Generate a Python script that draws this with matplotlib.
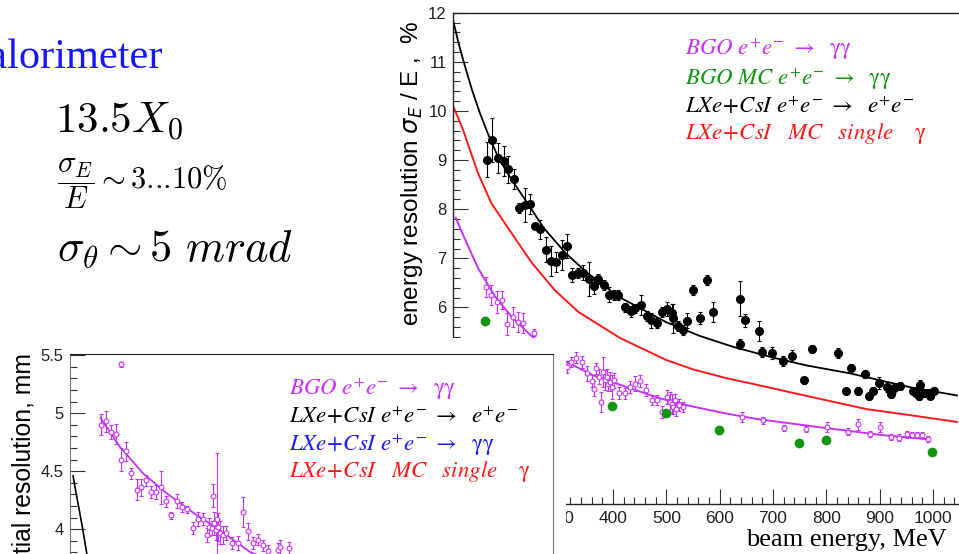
import matplotlib
matplotlib.use("Agg")
import matplotlib.pyplot as plt
from matplotlib.ticker import MultipleLocator, FuncFormatter
from matplotlib.patches import Rectangle

plt.rcParams['font.family'] = ['Liberation Sans', 'DejaVu Sans']

# ---- top plot: energy resolution vs beam energy ----
black_E = [164, 174, 185, 195, 204, 215, 224, 235, 245, 254, 264, 274, 283, 294, 304,
           314, 324, 334, 343, 355, 364, 371, 384, 393, 402, 410, 422, 433, 442, 452,
           463, 471, 482, 491, 502, 511, 512, 522, 531, 539, 550, 563, 577, 588, 638,
           639, 647, 674, 680, 699, 719, 736, 758, 773, 822, 837, 847, 859, 872, 880,
           888, 899, 913, 921, 927, 938, 963, 968, 974, 976, 984, 992, 994, 1002]
black_v = [9.01, 9.41, 9.04, 8.98, 8.81, 8.61, 8.02, 8.08, 8.11, 7.66, 7.59, 7.18, 6.95, 6.92, 7.07,
           7.25, 6.66, 6.71, 6.71, 6.58, 6.43, 6.58, 6.45, 6.26, 6.26, 6.26, 6.00, 5.92, 5.98, 6.05,
           5.82, 5.74, 5.69, 5.90, 5.97, 5.88, 5.78, 5.62, 5.55, 5.73, 6.35, 5.78, 6.56, 5.91, 6.18,
           5.25, 5.74, 5.52, 5.10, 5.08, 4.91, 5.01, 4.52, 5.16, 5.08, 4.30, 4.76, 4.30, 4.65, 4.19,
           4.31, 4.47, 4.38, 4.23, 4.36, 4.40, 4.31, 4.25, 4.19, 4.43, 4.26, 4.26, 4.20, 4.31]
black_err = [0.35, 0.45, 0.30, 0.30, 0.28, 0.20, 0.10, 0.35, 0.20, 0.05, 0.20, 0.25, 0.30, 0.20, 0.30,
             0.25, 0.15, 0.10, 0.15, 0.35, 0.15, 0.10, 0.10, 0.15, 0.10, 0.10, 0.10, 0.12, 0.10, 0.20,
             0.10, 0.15, 0.10, 0.10, 0.15, 0.20, 0.30, 0.10, 0.10, 0.15, 0.10, 0.12, 0.10, 0.20, 0.35,
             0.10, 0.13, 0.20, 0.10, 0.12, 0.10, 0.12, 0.07, 0.08, 0.10, 0.07, 0.09, 0.09, 0.08, 0.07,
             0.08, 0.12, 0.10, 0.08, 0.10, 0.08, 0.07, 0.07, 0.07, 0.10, 0.08, 0.08, 0.07, 0.08]

bgo_E = [162, 172, 182, 192, 202, 212, 221, 231, 251,
         313, 321, 331, 342, 352, 361, 365, 369, 374, 377, 381, 385, 388, 391, 394, 398, 401,
         411, 422, 432, 441, 451, 461, 474, 482, 491, 501, 506, 510, 513, 516, 519, 524, 531, 641,
         682, 721, 761, 802, 840, 860, 881, 901, 921, 936, 951, 960, 970, 979, 991]
bgo_v = [6.42, 6.25, 6.11, 6.15, 5.67, 5.81, 5.71, 5.69, 5.49,
         4.79, 4.89, 4.98, 4.89, 4.66, 4.50, 4.35, 4.76, 4.59, 4.08, 4.69, 4.52, 4.59, 4.45, 4.49, 4.38, 4.52,
         4.26, 4.25, 4.38, 4.45, 4.50, 4.32, 4.11, 4.11, 3.87, 4.18, 4.08, 4.04, 3.98, 4.11, 3.94, 4.01, 3.98, 3.77,
         3.70, 3.54, 3.52, 3.57, 3.47, 3.62, 3.42, 3.57, 3.36, 3.35, 3.42, 3.40, 3.40, 3.40, 3.33]
bgo_err = [0.20, 0.20, 0.22, 0.18, 0.22, 0.20, 0.20, 0.20, 0.08,
           0.12, 0.10, 0.12, 0.12, 0.15, 0.12, 0.15, 0.12, 0.15, 0.20, 0.30, 0.20, 0.15, 0.15, 0.20, 0.25, 0.15,
           0.12, 0.12, 0.12, 0.15, 0.12, 0.12, 0.10, 0.10, 0.12, 0.15, 0.20, 0.20, 0.15, 0.12, 0.15, 0.12, 0.10, 0.10,
           0.08, 0.06, 0.06, 0.10, 0.07, 0.12, 0.06, 0.10, 0.06, 0.07, 0.07, 0.06, 0.06, 0.06, 0.06]

mc_E = [160, 399, 499, 599, 749, 799, 998]
mc_v = [5.73, 3.99, 3.86, 3.50, 3.25, 3.31, 3.06]
mc_err = [0.07, 0.06, 0.05, 0.07, 0.06, 0.07, 0.06]

# fit curves
fit_black_E = [100, 110, 120, 135, 150, 165, 185, 210, 235, 270, 310, 350, 410, 438, 500,
               563, 625, 700, 763, 844, 888, 960, 1045]
fit_black_v = [11.85, 11.4, 11.0, 10.45, 9.97, 9.55, 9.05, 8.6, 8.2, 7.62, 7.12, 6.72, 6.22, 6.06, 5.70,
               5.42, 5.20, 4.98, 4.82, 4.66, 4.55, 4.37, 4.21]
fit_red_E = [100, 110, 119, 132, 147, 172, 210, 247, 291, 335, 413, 500, 550, 613, 660, 763, 876, 969, 1045]
fit_red_v = [10.1, 9.85, 9.61, 9.2, 8.73, 8.12, 7.51, 6.92, 6.35, 5.91, 5.38, 4.93, 4.74, 4.56, 4.45,
             4.20, 3.93, 3.79, 3.67]
fit_bgo_E = [105, 122, 147, 179, 210, 247, 313, 363, 426, 488, 551, 613, 670, 782, 907, 988]
fit_bgo_v = [7.83, 7.40, 6.80, 6.22, 5.81, 5.42, 4.89, 4.62, 4.38, 4.15, 3.98, 3.84, 3.73, 3.57, 3.40, 3.32]

# ---- bottom plot: spatial resolution ----
sp_E = [201, 161, 170, 180, 191, 200, 210, 220, 231, 240, 250, 259, 269, 279, 289, 299, 310, 320,
        331, 342, 351, 361, 369, 374, 379, 382, 384, 387, 389, 392, 395, 400, 407, 418, 430, 440,
        450, 460, 470, 480, 490, 510, 513, 530]
sp_v = [5.42, 4.90, 4.93, 4.84, 4.82, 4.60, 4.67, 4.48, 4.34, 4.36, 4.42, 4.32, 4.32, 4.36, 4.24, 4.12,
        4.24, 4.19, 4.17, 4.01, 4.09, 4.09, 3.95, 4.02, 4.01, 4.29, 4.05, 3.99, 4.09, 4.02, 3.97, 3.95,
        3.97, 3.88, 3.88, 4.15, 3.98, 3.88, 3.91, 3.86, 3.81, 3.82, 3.85, 3.84]
sp_err = [0.02, 0.09, 0.09, 0.06, 0.09, 0.10, 0.08, 0.05, 0.09, 0.07, 0.05, 0.05, 0.06, 0.14, 0.05, 0.03,
          0.06, 0.04, 0.03, 0.05, 0.06, 0.05, 0.06, 0.08, 0.06, 0.10, 0.10, 0.08, 0.57, 0.12, 0.10, 0.08,
          0.06, 0.05, 0.06, 0.13, 0.07, 0.05, 0.05, 0.05, 0.05, 0.06, 0.06, 0.05]
sp_fit_E = [160, 198, 244, 290, 343, 395, 455, 530, 600]
sp_fit_v = [4.96, 4.71, 4.48, 4.31, 4.14, 3.99, 3.80, 3.68, 3.56]
sp_black_E = [106, 112, 118, 125, 133, 140]
sp_black_v = [4.46, 4.31, 4.17, 4.00, 3.79, 3.62]

MAG = '#c832ff'
GRN = '#129612'
RED = '#ff1a1a'
BLU = '#1c1cff'

W, H = 959, 554


def box(l, t, r, b):
    return [l / W, 1 - b / H, (r - l) / W, (b - t) / H]


fig = plt.figure(figsize=(W / 100, H / 100), dpi=100)
fig.patch.set_facecolor('white')

# top plot
ax1 = fig.add_axes(box(453, 12.7, 1000, 504), zorder=1)
ax1.set_xlim(100, 100 + (1000 - 453) / 0.5333)
ax1.set_ylim(2, 12)
ax1.plot(fit_black_E, fit_black_v, color='black', lw=1.3)
ax1.plot(fit_red_E, fit_red_v, color=RED, lw=1.4)
ax1.plot(fit_bgo_E, fit_bgo_v, color=MAG, lw=1.4)
ax1.errorbar(bgo_E, bgo_v, yerr=bgo_err, fmt='o', ms=3.5, mfc='white', mec=MAG, mew=0.8,
             ecolor=MAG, elinewidth=0.8, capsize=1.5, capthick=0.8)
ax1.errorbar(black_E, black_v, yerr=black_err, fmt='o', ms=5.5, color='black',
             elinewidth=0.8, capsize=1.5, capthick=0.8)
ax1.errorbar(mc_E, mc_v, yerr=mc_err, fmt='o', ms=6, color=GRN,
             elinewidth=0.8, capsize=1.5, capthick=0.8)
ax1.spines['right'].set_visible(False)
for s in ['top', 'left', 'bottom']:
    ax1.spines[s].set_color('#222222')
    ax1.spines[s].set_linewidth(1)
ax1.xaxis.set_major_locator(MultipleLocator(100))
ax1.xaxis.set_minor_locator(MultipleLocator(20))
ax1.yaxis.set_major_locator(MultipleLocator(1))
ax1.yaxis.set_minor_locator(MultipleLocator(0.2))
ax1.tick_params(which='both', direction='in', top=False, right=False, color='#333333', width=0.8)
ax1.tick_params(which='major', length=11)
ax1.tick_params(which='minor', length=5)
ax1.tick_params(axis='y', labelsize=12, pad=4.5, labelcolor='#222222')
ax1.tick_params(axis='x', labelsize=12.5, pad=5, labelcolor='#222222')

fig.text(412 / W, 1 - 173 / H, r'energy resolution $\sigma_{E}$ / E ,  %', rotation=90,
         ha='center', va='center', fontsize=17.5, math_fontfamily='dejavusans')
fig.text(947 / W, 1 - 546 / H, 'beam energy, MeV', ha='right', va='baseline',
         fontsize=19, family=['Liberation Serif', 'DejaVu Serif'])

g = r'\mathrm{\gamma}'
arr = r'\ \rightarrow\ \ '
top_legend = [r'$BGO\ e^{+}e^{-}' + arr + g + g + '$',
              r'$BGO\ MC\ e^{+}e^{-}' + arr + g + g + '$',
              r'$LXe\!+\!CsI\ e^{+}e^{-}' + arr + r'e^{+}e^{-}$',
              r'$LXe\!+\!CsI\ \ \ MC\ \ \ single\ \ \ \ ' + g + '$']
top_colors = [MAG, GRN, 'black', RED]
top_y = [49, 79, 107, 134]
for t, c, y in zip(top_legend, top_colors, top_y):
    fig.text(685 / W, 1 - y / H, t, color=c, fontsize=16.5, ha='left', va='center',
             math_fontfamily='stix')

# white cover for the second picture
fig.add_artist(Rectangle((0, 0), 566 / W, (H - 338) / H, transform=fig.transFigure,
                         facecolor='white', edgecolor='none', zorder=1.5))

# bottom plot
ax2 = fig.add_axes(box(70, 354, 553, 354 + 2.51 * 116), zorder=2)
ax2.set_xlim(100, 1050)
ax2.set_ylim(3.0, 5.51)
ax2.plot(sp_fit_E, sp_fit_v, color=MAG, lw=1.3)
ax2.plot(sp_black_E, sp_black_v, color='black', lw=1.2)
ax2.errorbar(sp_E, sp_v, yerr=sp_err, fmt='o', ms=3.5, mfc='white', mec=MAG, mew=0.8,
             ecolor=MAG, elinewidth=0.8, capsize=1.5, capthick=0.8)
ax2.spines['bottom'].set_visible(False)
ax2.spines['top'].set_color('#222222')
ax2.spines['left'].set_color('#777777')
ax2.spines['right'].set_color('#777777')
ax2.yaxis.set_major_locator(MultipleLocator(0.5))
ax2.yaxis.set_minor_locator(MultipleLocator(0.1))
ax2.yaxis.set_major_formatter(FuncFormatter(lambda v, p: ('%g' % v)))
ax2.tick_params(axis='x', which='both', bottom=False, labelbottom=False)
ax2.tick_params(axis='y', which='both', direction='in', color='#333333', width=0.8,
                labelsize=12, pad=4.5, labelcolor='#222222')
ax2.tick_params(axis='y', which='major', length=11)
ax2.tick_params(axis='y', which='minor', length=5)

fig.text(24 / W, 1 - 353 / H, 'spatial resolution, mm', rotation=90, ha='center', va='top',
         fontsize=17.8, zorder=3)

bot_legend = [r'$BGO\ e^{+}e^{-}' + arr + g + g + '$',
              r'$LXe\!+\!CsI\ e^{+}e^{-}' + arr + r'e^{+}e^{-}$',
              r'$LXe\!+\!CsI\ e^{+}e^{-}' + arr + g + g + '$',
              r'$LXe\!+\!CsI\ \ \ MC\ \ \ single\ \ \ \ ' + g + '$']
bot_colors = [MAG, 'black', BLU, RED]
bot_y = [389, 417, 445, 471]
for t, c, y in zip(bot_legend, bot_colors, bot_y):
    fig.text(289 / W, 1 - y / H, t, color=c, fontsize=16.5, ha='left', va='center',
             math_fontfamily='stix', zorder=3)

# slide text on the left
fig.text(163 / W, 1 - 68 / H, 'Calorimeter', color='#1515ff', ha='right', va='baseline',
         fontsize=30.5, family=['Liberation Serif', 'DejaVu Serif'])
fig.text(55 / W, 1 - 133 / H, r'$13.5X_0$', fontsize=31, math_fontfamily='cm', va='baseline')
fig.text(57 / W, 1 - 184 / H,
         r'$\dfrac{\sigma_E}{E} \sim 3.\hspace{-0.2}.\hspace{-0.2}.\hspace{-0.2}10\%$',
         fontsize=22, math_fontfamily='cm', va='center')
fig.text(57 / W, 1 - 260 / H, r'$\sigma_\theta \sim 5\ mrad$', fontsize=32,
         math_fontfamily='cm', va='baseline')

fig.savefig('out.png', dpi=100)
